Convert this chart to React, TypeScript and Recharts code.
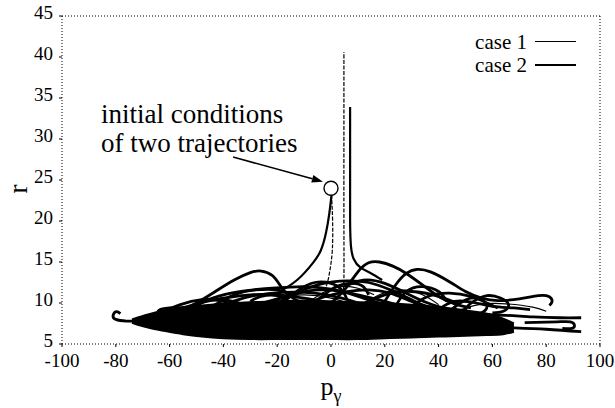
import {
  Area,
  ComposedChart,
  Line,
  ReferenceDot,
  ReferenceLine,
  XAxis,
  YAxis,
} from 'recharts';

type Pt = [number, number];

const xTicks = [-100, -80, -60, -40, -20, 0, 20, 40, 60, 80, 100];
const yTicks = [5, 10, 15, 20, 25, 30, 35, 40, 45];

// dense core of both trajectories: p, lower r, upper r
const bandP = [-74, -68, -62, -55, -48, -40, -30, -20, -10, 0, 10, 20, 30, 40, 50, 58, 64, 68];
const bandLo = [7.6, 7.0, 6.6, 6.2, 5.9, 5.7, 5.6, 5.6, 5.6, 5.6, 5.6, 5.7, 5.8, 5.9, 6.0, 6.1, 6.2, 6.5];
const bandHi = [8.0, 8.6, 9.1, 9.5, 9.7, 9.9, 10.1, 10.2, 10.3, 10.2, 10.1, 10.0, 9.8, 9.5, 9.1, 8.7, 8.1, 7.5];

// case 1 (thin)
const case1Start: Pt[] = [[0.2, 23.2], [0.6, 20], [0.5, 16.5], [-0.4, 14], [-1.5, 12.3], [-3, 11.2]];
const case1Escape: Pt[] = [[4.4, 11], [4.8, 13], [4.8, 20], [4.8, 30], [4.8, 40.6]];
const case1Loops: Pt[][] = [
  [[-30, 9.6], [-20, 10.6], [-10, 11.0], [0, 10.6], [8, 9.8]],
  [[10, 9.5], [18, 11.0], [26, 11.6], [34, 11.0], [40, 9.8]],
  [[45, 8.8], [55, 9.8], [65, 9.9], [75, 9.5], [80, 9.0]],
  [[-8, 10.2], [-2, 11.4], [4, 12.0], [10, 11.8], [16, 11.0]],
];

// case 2 (thick)
const case2Start: Pt[] = [[0.2, 23.2], [-0.6, 21], [-1.9, 18.5], [-3.8, 16.4], [-6.7, 14.9], [-12.6, 12.8], [-20, 11.2]];
const case2Escape: Pt[] = [[7.1, 33.9], [7.1, 26], [7.1, 20], [7.4, 17], [8.4, 15.4], [11, 14.3], [14.5, 13.7], [19, 12.8]];
const case2Loops: Pt[][] = [
  [[-56, 9.0], [-50, 10.0], [-43, 11.4], [-36, 12.8], [-30, 13.7], [-26, 13.9], [-22, 13.4], [-19, 12.2], [-16, 11.0], [-12, 10.2]],
  [[-52, 9.4], [-44, 10.6], [-34, 11.4], [-22, 11.8], [-10, 12.0], [0, 11.7], [10, 11.0], [20, 10.2], [28, 9.4]],
  [[-40, 9.8], [-30, 10.8], [-18, 11.3], [-6, 11.2], [4, 10.6], [12, 9.8], [18, 9.2]],
  [[-28, 9.6], [-16, 10.9], [-4, 12.3], [6, 12.7], [14, 12.5], [22, 11.6], [30, 10.4], [36, 9.4]],
  [[0, 10.0], [5, 11.6], [10, 13.8], [14, 14.9], [18, 15.0], [23, 14.5], [28, 13.6], [34, 12.2], [40, 10.8], [46, 9.9], [52, 9.4]],
  [[20, 10.2], [24, 12.2], [28, 13.6], [32, 14.1], [37, 13.8], [44, 12.6], [50, 11.4], [56, 10.6], [62, 10.3], [70, 10.5], [77, 10.9], [81, 10.8], [82.2, 10.2], [81.2, 9.7]],
  [[5, 12.0], [12, 12.8], [20, 12.4], [28, 11.2], [36, 10.0], [44, 9.2]],
  [[44, 9.0], [48, 10.0], [52, 10.6], [56, 10.4], [58, 9.6], [56, 8.8], [52, 8.6], [50, 9.2], [53, 10.2], [58, 10.9], [63, 10.6], [66, 9.8], [64, 9.0], [60, 8.8]],
  [[55, 8.6], [65, 8.5], [75, 8.3], [85, 8.2], [93, 8.2]],
  [[50, 7.2], [65, 7.0], [80, 6.8], [93, 6.5]],
  [[72, 7.6], [84, 7.7], [89, 7.7], [90.5, 7.3], [89.5, 6.9], [86, 6.9]],
  [[-56, 7.6], [-64, 7.7], [-71, 7.8], [-76, 7.8], [-80, 8.0], [-81, 8.5], [-79.8, 8.95], [-78.3, 8.7]],
  [[-48, 8.7], [-54, 9.3], [-60, 9.4], [-64, 9.1], [-63, 8.6], [-58, 8.4], [-52, 8.6]],
  [[-34, 9.4], [-40, 10.2], [-46, 10.3], [-49, 9.8], [-46, 9.3], [-40, 9.2]],
  [[-60, 8.8], [-50, 9.9], [-40, 10.6], [-30, 11.0], [-20, 11.0], [-10, 10.6], [0, 10.0]],
  [[-20, 10.0], [-12, 11.2], [-4, 11.6], [4, 11.4], [12, 10.6], [20, 9.8]],
  [[-10, 9.8], [-2, 10.8], [6, 11.4], [14, 11.6], [22, 11.2], [30, 10.2], [38, 9.4]],
  [[10, 9.6], [20, 11.0], [30, 11.4], [40, 10.8], [48, 9.8]],
  [[-30, 10.2], [-26, 10.8], [-20, 10.9], [-17, 10.4], [-21, 9.9], [-27, 9.9]],
  [[-18, 10.0], [-12, 11.6], [-6, 12.5], [0, 12.4], [4, 11.6], [6, 10.4]],
  [[24, 9.6], [28, 11.4], [34, 12.0], [40, 11.4], [43, 10.2]],
  [[-66, 8.2], [-58, 9.0], [-50, 9.4], [-42, 9.8]],
  [[-62, 9.0], [-56, 9.8], [-48, 10.4], [-40, 10.4], [-34, 10.0]],
  [[-44, 9.6], [-36, 11.0], [-28, 11.6], [-20, 11.6], [-14, 11.0]],
  [[30, 9.6], [36, 10.8], [44, 11.2], [52, 10.8], [58, 10.0], [62, 9.4]],
  [[40, 9.2], [46, 10.2], [54, 10.0], [60, 9.6], [68, 9.4], [74, 9.2]],
  [[-4, 10.6], [2, 12.0], [8, 12.4], [12, 12.0], [14, 11.0]],
];

const startPoint: Pt = [0, 24];
const startMark: Pt[] = [[0.1, 23.6], [-0.1, 24.4]];
const arrowFrom: Pt = [-36.4, 27.8];
const arrowTo: Pt = [-3, 24.8];

const serif = 'Liberation Serif, Times New Roman, Times, DejaVu Serif, serif';
const pts = (a: Pt[]) => a.map(([p, r]) => ({ p, r }));
const bandData = bandP.map((p, i) => ({ p, band: [bandLo[i], bandHi[i]] }));

function ArrowShape(props: any) {
  const { x1, y1, x2, y2 } = props;
  const a = Math.atan2(y2 - y1, x2 - x1);
  const L = 11;
  const W = 4;
  const bx = x2 - L * Math.cos(a);
  const by = y2 - L * Math.sin(a);
  const p1 = `${bx - W * Math.sin(a)},${by + W * Math.cos(a)}`;
  const p2 = `${bx + W * Math.sin(a)},${by - W * Math.cos(a)}`;
  return (
    <g>
      <line x1={x1} y1={y1} x2={bx} y2={by} stroke="#000" strokeWidth={1.6} />
      <polygon points={`${x2},${y2} ${p1} ${p2}`} fill="#000" />
    </g>
  );
}

function YTick({ x, y, payload }: any) {
  return (
    <text x={x} y={y - 3.5} dy="0.355em" textAnchor="end" fill="#000" fontSize={19} fontFamily={serif}>
      {payload.value}
    </text>
  );
}

export default function App() {
  const tick = { fill: '#000', fontSize: 19, fontFamily: serif };
  const dotted = { stroke: '#000', strokeDasharray: '1 2' };
  return (
    <div style={{ position: 'absolute', left: 0, top: 0, width: 615, height: 408, background: '#fff', fontFamily: serif }}>
      <ComposedChart width={615} height={408} data={bandData} margin={{ top: 16, right: 15, bottom: 0, left: 0 }}>
        <XAxis
          type="number"
          dataKey="p"
          domain={[-100, 100]}
          ticks={xTicks}
          allowDataOverflow
          height={64}
          tick={tick}
          tickSize={3}
          tickMargin={7}
          axisLine={dotted}
          tickLine={{ stroke: '#000' }}
        />
        <YAxis
          type="number"
          domain={[5, 45]}
          ticks={yTicks}
          allowDataOverflow
          width={62}
          tick={YTick}
          tickSize={3}
          tickMargin={6}
          axisLine={dotted}
          tickLine={{ stroke: '#000' }}
        />
        <ReferenceLine y={45} stroke="#000" strokeDasharray="1 2" />
        <ReferenceLine x={100} stroke="#000" strokeDasharray="1 2" />
        <Area dataKey="band" type="natural" fill="#000" fillOpacity={1} stroke="#000" strokeWidth={2} isAnimationActive={false} />
        {case2Loops.map((l, i) => (
          <Line key={`c2-${i}`} data={pts(l)} dataKey="r" type="natural" stroke="#000" strokeWidth={2.8} dot={false} isAnimationActive={false} />
        ))}
        {case1Loops.map((l, i) => (
          <Line key={`c1-${i}`} data={pts(l)} dataKey="r" type="natural" stroke="#000" strokeWidth={1.2} dot={false} isAnimationActive={false} />
        ))}
        <Line data={pts(case2Start)} dataKey="r" type="natural" stroke="#000" strokeWidth={2.2} dot={false} isAnimationActive={false} />
        <Line data={pts(case2Escape)} dataKey="r" type="natural" stroke="#000" strokeWidth={2.2} dot={false} isAnimationActive={false} />
        <Line data={pts(case1Start)} dataKey="r" type="natural" stroke="#000" strokeWidth={1.2} strokeDasharray="4 1.5" dot={false} isAnimationActive={false} />
        <Line data={pts(case1Escape)} dataKey="r" type="natural" stroke="#000" strokeWidth={1.2} strokeDasharray="4 1.5" dot={false} isAnimationActive={false} />
        <ReferenceDot x={startPoint[0]} y={startPoint[1]} r={7} fill="#fff" stroke="#000" strokeWidth={1.4} />
        <Line data={pts(startMark)} dataKey="r" type="linear" stroke="#000" strokeWidth={1.4} dot={false} isAnimationActive={false} />
        <ReferenceLine
          segment={[{ x: arrowFrom[0], y: arrowFrom[1] }, { x: arrowTo[0], y: arrowTo[1] }]}
          stroke="#000"
          shape={ArrowShape}
        />
      </ComposedChart>

      <div style={{ position: 'absolute', left: 101, top: 100, fontSize: 27, lineHeight: '29px', color: '#000' }}>
        initial conditions
        <br />
        of two trajectories
      </div>

      <div style={{ position: 'absolute', left: 0, top: 176, width: 36, height: 26, transform: 'rotate(-90deg)', fontSize: 27, lineHeight: '26px', textAlign: 'center' }}>
        r
      </div>

      <div style={{ position: 'absolute', left: 300, top: 377, width: 62, textAlign: 'center', fontSize: 26, lineHeight: '20px' }}>
        p<span style={{ fontSize: 18, position: 'relative', top: 7 }}>γ</span>
      </div>

      <div style={{ position: 'absolute', left: 440, top: 30, width: 140, fontSize: 21, lineHeight: '22px' }}>
        {[
          { name: 'case 1', w: 1.2 },
          { name: 'case 2', w: 2 },
        ].map(it => (
          <div key={it.name} style={{ display: 'flex', alignItems: 'center', justifyContent: 'flex-end', height: 23 }}>
            <span>{it.name}</span>
            <span style={{ display: 'inline-block', width: 41, height: 0, borderTop: `${it.w}px solid #000`, marginLeft: 8, marginRight: 4 }} />
          </div>
        ))}
      </div>
    </div>
  );
}
